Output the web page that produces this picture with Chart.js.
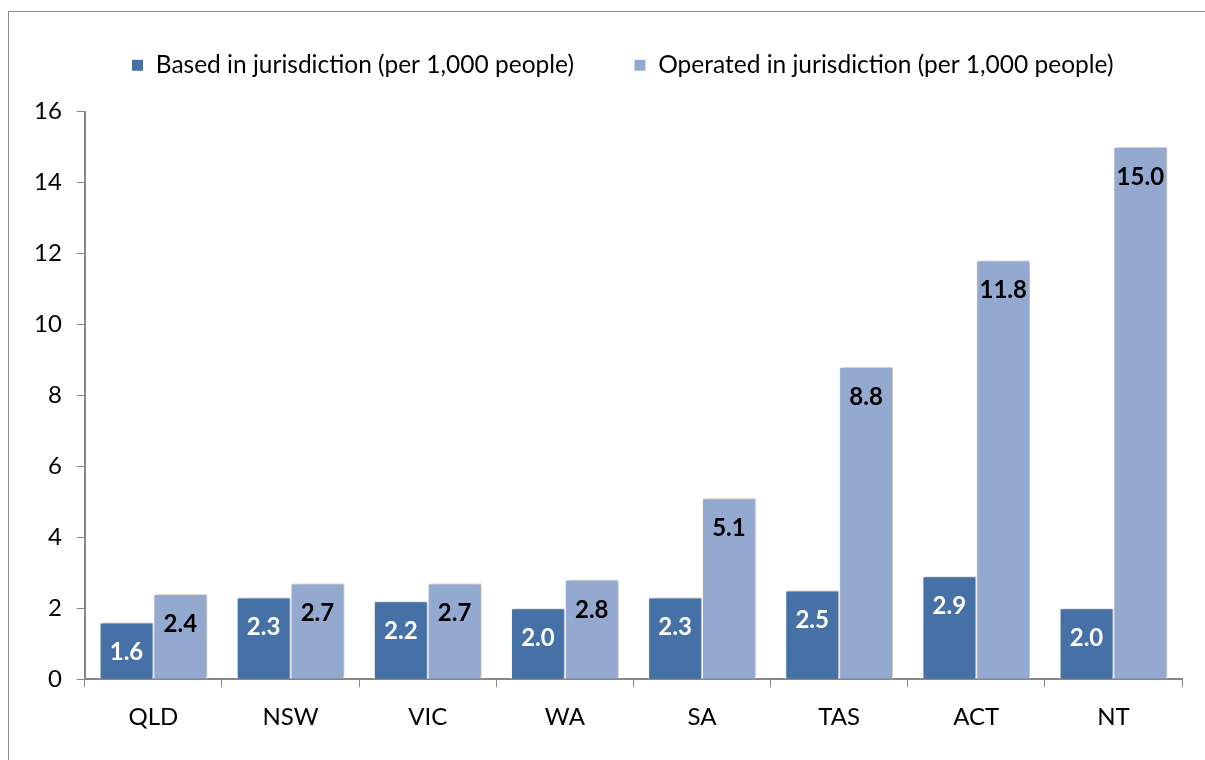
<!DOCTYPE html>
<html>
<head>
<meta charset="utf-8">
<script src="https://cdn.jsdelivr.net/npm/chart.js@4"></script>
<style>
  html, body { margin: 0; padding: 0; width: 1205px; height: 760px; overflow: hidden; background: #fff; }
  #frame { position: absolute; left: 8px; top: 11px; width: 1240px; height: 800px; border: 1px solid #8c8c8c; box-sizing: border-box; }
  #wrap { position: absolute; left: 9px; top: -20px; width: 1228px; height: 800px; }
</style>
</head>
<body>
<div id="frame"></div>
<div id="wrap"><canvas id="c"></canvas></div>
<script>
const categories = ["QLD", "NSW", "VIC", "WA", "SA", "TAS", "ACT", "NT"];
const basedValues = [1.6, 2.3, 2.2, 2.0, 2.3, 2.5, 2.9, 2.0];
const operatedValues = [2.4, 2.7, 2.7, 2.8, 5.1, 8.8, 11.8, 15.0];
const seriesNames = ["Based in jurisdiction (per 1,000 people)", "Operated in jurisdiction (per 1,000 people)"];
const yTicks = [0, 2, 4, 6, 8, 10, 12, 14, 16];

const FONT = "Lato, 'Open Sans', sans-serif";

const barDecor = {
  id: 'barDecor',
  beforeInit(chart) {
    const orig = chart.legend.fit;
    chart.legend.fit = function () { orig.call(this); this.height += 24; };
  },
  afterLayout(chart) {
    chart.legend.left += 22;
    chart.legend.right += 22;
  },
  beforeDatasetsDraw(chart) {
    const ctx = chart.ctx;
    ctx.save();
    ctx.shadowColor = 'rgba(0,0,0,0.3)';
    ctx.shadowBlur = 4;
    ctx.shadowOffsetX = 2;
    ctx.shadowOffsetY = -0.5;
  },
  afterDatasetsDraw(chart) {
    const ctx = chart.ctx;
    ctx.restore();
    ctx.save();
    ctx.font = "bold 24px " + FONT;
    ctx.textAlign = 'center';
    ctx.textBaseline = 'middle';
    chart.data.datasets.forEach((ds, di) => {
      const meta = chart.getDatasetMeta(di);
      ctx.fillStyle = di === 0 ? '#ffffff' : '#000000';
      meta.data.forEach((bar, i) => {
        ctx.fillText(ds.data[i].toFixed(1), bar.x, bar.y + 30);
      });
    });
    ctx.restore();
  }
};

new Chart(document.getElementById('c'), {
  type: 'bar',
  data: {
    labels: categories,
    datasets: [
      { label: seriesNames[0], data: basedValues, backgroundColor: '#4571a7', borderColor: '#ffffff', borderWidth: 1 },
      { label: seriesNames[1], data: operatedValues, backgroundColor: '#94a9d0', borderColor: '#ffffff', borderWidth: 1 }
    ]
  },
  options: {
    responsive: true,
    maintainAspectRatio: false,
    animation: false,
    devicePixelRatio: 1,
    layout: { padding: { top: 13, left: 10, right: 55, bottom: 32 } },
    datasets: { bar: { barPercentage: 1.0, categoryPercentage: 0.785 } },
    plugins: {
      legend: {
        position: 'top',
        labels: {
          boxWidth: 12, boxHeight: 12, padding: 60,
          color: '#000', font: { family: FONT, size: 24.5 }
        }
      },
      tooltip: { enabled: false }
    },
    scales: {
      x: {
        grid: { display: true, drawOnChartArea: false, drawTicks: true, tickLength: 8, color: '#888', offset: true },
        border: { display: true, color: '#888', width: 2 },
        ticks: { color: '#000', font: { family: FONT, size: 24 }, padding: 16 }
      },
      y: {
        min: 0, max: 16,
        afterBuildTicks(scale) { scale.ticks = yTicks.map(v => ({ value: v })); },
        grid: { display: true, drawOnChartArea: false, drawTicks: true, tickLength: 8, color: '#888' },
        border: { display: true, color: '#888', width: 2 },
        ticks: { color: '#000', font: { family: FONT, size: 24 }, padding: 15 }
      }
    }
  },
  plugins: [barDecor]
});
</script>
</body>
</html>
